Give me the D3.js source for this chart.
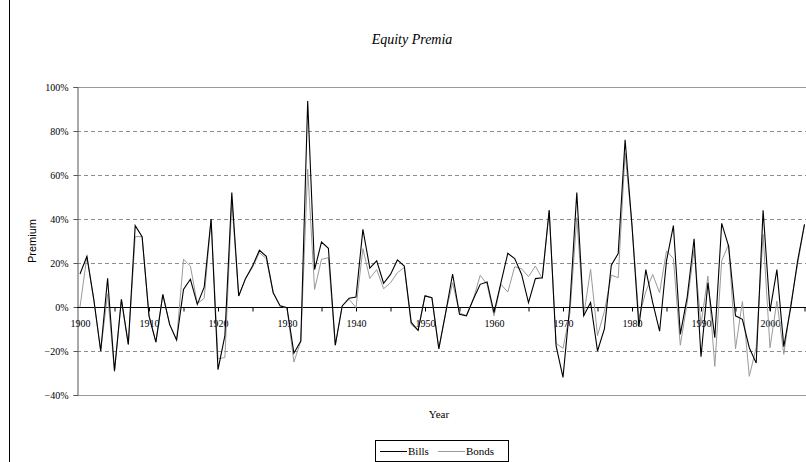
<!DOCTYPE html>
<html>
<head>
<meta charset="utf-8">
<script src="https://cdn.jsdelivr.net/npm/d3@7"></script>
<style>
  body { margin: 0; background: #fff; }
  svg { display: block; }
</style>
</head>
<body>
<svg width="806" height="462"></svg>
<script>
// years 1900..2005
const years = d3.range(1900, 2006);

// equity premium over bills, %
const bills = [
  15, 23, 3.5, -20, 13, -29, 3.5, -17, 37, 32,
  -4, -16, 5.7, -8, -15, 8, 12.6, 1.2, 9, 40,
  -28.5, -13, 52, 5, 13, 18.6, 25.8, 23, 6.5, 0.5,
  -0.3, -21, -15.5, 93.6, 17, 29.5, 26.7, -17.4, 0.5, 4,
  4.5, 35.3, 17.7, 21, 10.8, 14.8, 21.4, 18.6, -7, -10.6,
  5, 4.2, -19, -2.6, 15, -3.3, -4, 3.5, 10.3, 11.4,
  -2.6, 11, 24.4, 22, 14.8, 2, 12.9, 13.3, 44, -17.7,
  -32, 1, 52, -4, 2, -20, -10, 19, 24.3, 76,
  37, -9, 17, 2, -11, 21, 37, -12.4, 4.5, 31,
  -22.6, 11, -14, 38, 27.7, -4, -5.6, -18.5, -25.5, 44,
  -1.8, 17, -18, -0.3, 21, 37.6
];

// equity premium over bonds, %
const bonds = [
  0, 23, 3, -20, 6, -29.5, 3.5, -17, 32, 32,
  -4, -16, 5.7, -8, -15, 21.7, 18.6, 1.5, 4, 40,
  -23.5, -23, 48, 5, 13, 18, 24.7, 22, 6.5, 0.5,
  -0.5, -25, -15.5, 62.6, 8, 21.7, 22.4, -17.4, 0.5, 3.5,
  -0.3, 26.5, 13, 17, 8.3, 11, 15.6, 18, -8, -10.6,
  5.3, 4.2, -19, -2.6, 11, -2.6, -4, 3.5, 14.4, 10.3,
  -4, 10.3, 6.8, 18.3, 17.4, 13.8, 18.6, 12.9, 44, -16.5,
  -18.8, -3, 40.6, -4, 17.2, -13, -2, 14.5, 13.3, 70,
  37, -5, 7, 14.8, 6.5, 25.5, 22, -17.4, 2, 26,
  -8, 14, -27, 21, 28.5, -19, 2.5, -31.5, -18.5, 33,
  -18.5, 2.7, -21.5, 1.2, 19.4, 37.6
];

const yTicks = [-0.4, -0.2, 0, 0.2, 0.4, 0.6, 0.8, 1.0];
const decadeTicks = d3.range(1900, 2001, 10);
const fiveTicks = d3.range(1905, 2006, 5);

const svg = d3.select('svg');
const serif = '"Liberation Serif", "Times New Roman", serif';

const plotLeft = 77, plotTop = 87, plotBottom = 395;
const xScale = d3.scaleLinear().domain([1900, 2005]).range([80, 804.5]);
const yScale = d3.scaleLinear().domain([-0.4, 1.0]).range([plotBottom, plotTop]);

// chart area left border
svg.append('line').attr('x1', 9.5).attr('x2', 9.5).attr('y1', 0).attr('y2', 462)
  .attr('stroke', '#000').attr('stroke-width', 1);

// plot area border (top/bottom)
svg.append('line').attr('x1', plotLeft).attr('x2', 806).attr('y1', plotTop + 0.5).attr('y2', plotTop + 0.5)
  .attr('stroke', '#999');
svg.append('line').attr('x1', plotLeft).attr('x2', 806).attr('y1', plotBottom + 0.5).attr('y2', plotBottom + 0.5)
  .attr('stroke', '#999');

// dashed gridlines
svg.append('g').selectAll('line')
  .data(yTicks.filter(d => d !== 0 && d !== -0.4 && d !== 1.0))
  .enter().append('line')
  .attr('x1', plotLeft).attr('x2', 806)
  .attr('y1', d => Math.round(yScale(d)) + 0.5)
  .attr('y2', d => Math.round(yScale(d)) + 0.5)
  .attr('stroke', '#8c8c8c')
  .attr('stroke-dasharray', '4,3');

// y axis
const gY = svg.append('g').attr('transform', `translate(${plotLeft + 0.5},0)`)
  .call(d3.axisLeft(yScale).tickValues(yTicks).tickFormat(d3.format('.0%')).tickSize(4).tickPadding(5));
gY.select('.domain').attr('stroke', '#555');
gY.selectAll('line').attr('stroke', '#555');
gY.selectAll('text').attr('font-family', serif).attr('font-size', 10).attr('fill', '#000');

// x axis at zero
const y0 = Math.round(yScale(0)) + 0.5;
const gX = svg.append('g').attr('transform', `translate(0,${y0})`)
  .call(d3.axisBottom(xScale).tickValues(fiveTicks).tickFormat('').tickSize(4).tickSizeOuter(0));
gX.select('.domain').attr('stroke', '#000').attr('d', `M${plotLeft},0H806`);
gX.selectAll('line').attr('stroke', '#000');

const gXL = svg.append('g').attr('transform', `translate(0,${y0})`)
  .call(d3.axisBottom(xScale).tickValues(decadeTicks).tickFormat(d3.format('d')).tickSize(0).tickPadding(12));
gXL.select('.domain').remove();
gXL.selectAll('text').attr('font-family', serif).attr('font-size', 10).attr('fill', '#000');

// lines
const line = vals => d3.line()
  .x((d, i) => xScale(years[i]))
  .y(d => yScale(d / 100))(vals);

svg.append('path').attr('d', line(bonds))
  .attr('fill', 'none').attr('stroke', '#9a9a9a').attr('stroke-width', 1);
svg.append('path').attr('d', line(bills))
  .attr('fill', 'none').attr('stroke', '#000').attr('stroke-width', 1.1);

// title
svg.append('text').text('Equity Premia')
  .attr('x', 412).attr('y', 44)
  .attr('text-anchor', 'middle')
  .attr('font-family', serif).attr('font-style', 'italic').attr('font-size', 14);

// axis titles
svg.append('text').text('Premium')
  .attr('transform', `translate(36,${(plotTop + plotBottom) / 2}) rotate(-90)`)
  .attr('text-anchor', 'middle')
  .attr('font-family', '"Liberation Sans", Arial, sans-serif').attr('font-size', 11);

svg.append('text').text('Year')
  .attr('x', 439).attr('y', 418)
  .attr('text-anchor', 'middle')
  .attr('font-family', serif).attr('font-size', 11);

// legend
const lg = svg.append('g');
lg.append('rect').attr('x', 375.5).attr('y', 440.5).attr('width', 133).attr('height', 21)
  .attr('fill', '#fff').attr('stroke', '#000');
const items = [
  {name: 'Bills', color: '#000', x: 380},
  {name: 'Bonds', color: '#9a9a9a', x: 438}
];
items.forEach(it => {
  lg.append('line').attr('x1', it.x).attr('x2', it.x + 27).attr('y1', 451.5).attr('y2', 451.5)
    .attr('stroke', it.color).attr('stroke-width', 1);
  lg.append('text').text(it.name).attr('x', it.x + 28).attr('y', 455)
    .attr('font-family', serif).attr('font-size', 11);
});
</script>
</body>
</html>
